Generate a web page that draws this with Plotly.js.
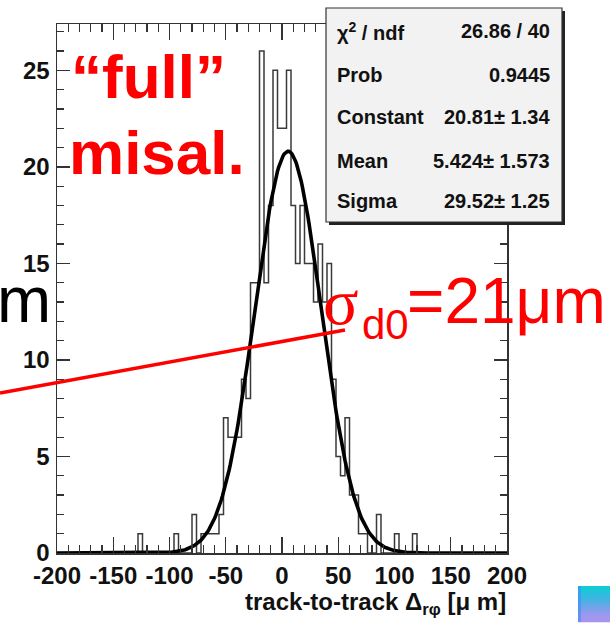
<!DOCTYPE html>
<html><head><meta charset="utf-8">
<script src="https://cdn.plot.ly/plotly-3.0.1.min.js"></script>
<style>html,body{margin:0;padding:0;background:#fff;}#chart{width:610px;height:625px;}</style>
</head><body><div id="chart"></div>
<script>
// ---- data ----
const binStart = -200;
const binWidth = 4;
const counts = [
  0,0,0,0,0,0,0,0,0,0,
  0,0,0,0,0,0,0,0,1,0,
  0,0,0,0,0,0,1,0,0,0,
  2,0,1,1,1,1,2,7,6,6,
  6,9,8,14,14,26,14,18,25,22,
  22,25,18,15,18,15,15,13,16,13,
  15,9,5,4,7,3,3,1,1,0,
  0,2,0,0,0,1,0,0,0,1,
  0,0,0,0,0,0,0,0,0,0,
  0,0,0,0,0,0,0,0,0,0
];
const fitConstant = 20.81;
const fitMean = 5.424;
const fitSigma = 29.52;
const xTickVals = [-200,-150,-100,-50,0,50,100,150,200];
const xTickText = ['-200','-150','-100','-50','0','50','100','150','200'];
const yTickVals = [0,5,10,15,20,25];
const statsLabels = ['\u03c7<sup>2</sup> / ndf','Prob','Constant','Mean','Sigma'];
const statsValues = ['26.86 / 40','0.9445','20.81\u00b1 1.34','5.424\u00b1 1.573','29.52\u00b1 1.25'];

// ---- traces ----
const edges = counts.map((c,i)=>binStart + i*binWidth).concat([binStart + counts.length*binWidth]);
const stepY = counts.concat([counts[counts.length-1]]);
const fx = [], fy = [];
for (let x = -200; x <= 200; x += 1) {
  fx.push(x);
  fy.push(fitConstant*Math.exp(-0.5*Math.pow((x-fitMean)/fitSigma,2)));
}
const hist = {x: edges, y: stepY, type:'scatter', mode:'lines', line:{shape:'hv', color:'#3a3a3a', width:1.5}, hoverinfo:'skip'};
const fit = {x: fx, y: fy, type:'scatter', mode:'lines', line:{color:'#000', width:3.6}, hoverinfo:'skip'};

// ---- layout helpers (pixel -> paper) ----
const L = 57, T = 24, W = 450, H = 529;
const px = v => (v - L)/W;
const py = v => (T + H - v)/H;

const FONT = 'Liberation Sans, Arial, sans-serif';
const shapes = [];
const annotations = [];

// stats box shadow + box
shapes.push({type:'rect', xref:'paper', yref:'paper', x0:px(329), x1:px(565), y0:py(11), y1:py(225), fillcolor:'#222', line:{width:0}, layer:'above'});
shapes.push({type:'rect', xref:'paper', yref:'paper', x0:px(326), x1:px(562), y0:py(8), y1:py(222), fillcolor:'#f2f2f2', line:{color:'#333', width:1.2}, layer:'above'});
// red pointer line
shapes.push({type:'line', xref:'paper', yref:'paper', x0:px(0), y0:py(393), x1:px(345), y1:py(330), line:{color:'#ff0000', width:3.5}, layer:'above'});
// gradient square decoration
const gradCols = ['#12cbd3','#1cc6d8','#28c0dc','#36b9df','#45b3e2','#55ade5','#66a7e8','#77a2ea','#889dec','#9899ee','#a296ef','#a894ef'];
gradCols.forEach((c,i)=>{
  const y0 = 586 + i*3, y1 = y0 + 3.2;
  shapes.push({type:'rect', xref:'paper', yref:'paper', x0:px(578), x1:px(611), y0:py(y1), y1:py(y0), fillcolor:c, line:{width:0}, layer:'above'});
});
shapes.push({type:'rect', xref:'paper', yref:'paper', x0:px(578), x1:px(581), y0:py(622), y1:py(586), fillcolor:'rgba(60,140,255,0.6)', line:{width:0}, layer:'above'});

const statRows = [31, 75, 117, 160.5, 201];
statsLabels.forEach((t,i)=>{
  annotations.push({xref:'paper', yref:'paper', x:px(336), y:py(statRows[i]), xanchor:'left', yanchor:'middle', showarrow:false, borderpad:0, text:t, font:{family:FONT, size:20, color:'#111', weight:'bold'}});
  annotations.push({xref:'paper', yref:'paper', x:px(551), y:py(statRows[i]), xanchor:'right', yanchor:'middle', showarrow:false, borderpad:0, text:statsValues[i], font:{family:FONT, size:20, color:'#111', weight:'bold'}});
});

// red labels
annotations.push({xref:'paper', yref:'paper', x:px(70), y:py(77), xanchor:'left', yanchor:'middle', showarrow:false, borderpad:0, text:'\u201cfull\u201d', font:{family:FONT, size:62, color:'#ff0000', weight:'bold'}});
annotations.push({xref:'paper', yref:'paper', x:px(68), y:py(152), xanchor:'left', yanchor:'middle', showarrow:false, borderpad:0, text:'misal.', font:{family:FONT, size:62, color:'#ff0000', weight:'bold'}});
// partial black "m"
annotations.push({xref:'paper', yref:'paper', x:px(52), y:py(299), xanchor:'right', yanchor:'middle', showarrow:false, borderpad:0, text:'m', font:{family:FONT, size:65, color:'#000'}});
// sigma label
annotations.push({xref:'paper', yref:'paper', x:px(322), y:py(301), xanchor:'left', yanchor:'middle', showarrow:false, borderpad:0, text:'\u03c3', font:{family:'Liberation Serif, serif', size:66, color:'#ff0000'}});
annotations.push({xref:'paper', yref:'paper', x:px(361), y:py(324), xanchor:'left', yanchor:'middle', showarrow:false, borderpad:0, text:'d0', font:{family:FONT, size:42, color:'#ff0000'}});
annotations.push({xref:'paper', yref:'paper', x:px(406), y:py(301), xanchor:'left', yanchor:'middle', showarrow:false, borderpad:0, text:'=21\u03bcm', font:{family:FONT, size:64, color:'#ff0000'}});
// x axis title (right aligned like ROOT)
annotations.push({xref:'paper', yref:'paper', x:px(507), y:py(603), xanchor:'right', yanchor:'middle', showarrow:false, borderpad:0, text:'track-to-track \u0394<sub>r\u03c6</sub> [\u03bc m]', font:{family:FONT, size:24, color:'#111', weight:'bold'}});

const layout = {
  width:610, height:625,
  margin:{l:L, r:610-L-W, t:T, b:625-T-H},
  paper_bgcolor:'#fff', plot_bgcolor:'#fff',
  showlegend:false,
  xaxis:{range:[-200,200], tickvals:xTickVals, ticktext:xTickText, ticks:'inside', ticklen:16, tickwidth:1.3, tickcolor:'#333',
    showline:true, linecolor:'#333', linewidth:1.5, mirror:'allticks', showgrid:false, zeroline:false,
    minor:{dtick:10, ticks:'inside', ticklen:8, tickwidth:1.2, tickcolor:'#333', showgrid:false},
    tickfont:{family:FONT, size:24, color:'#111', weight:'bold'}, ticklabelstandoff:1},
  yaxis:{range:[0,27.4], tickvals:yTickVals, ticks:'inside', ticklen:13, tickwidth:1.3, tickcolor:'#333',
    showline:true, linecolor:'#333', linewidth:1.5, mirror:'allticks', showgrid:false, zeroline:false,
    minor:{dtick:1, ticks:'inside', ticklen:7, tickwidth:1.2, tickcolor:'#333', showgrid:false},
    tickfont:{family:FONT, size:24, color:'#111', weight:'bold'}, ticklabelstandoff:1},
  shapes:shapes,
  annotations:annotations
};
Plotly.newPlot('chart', [hist, fit], layout, {displayModeBar:false, staticPlot:true});
</script></body></html>
